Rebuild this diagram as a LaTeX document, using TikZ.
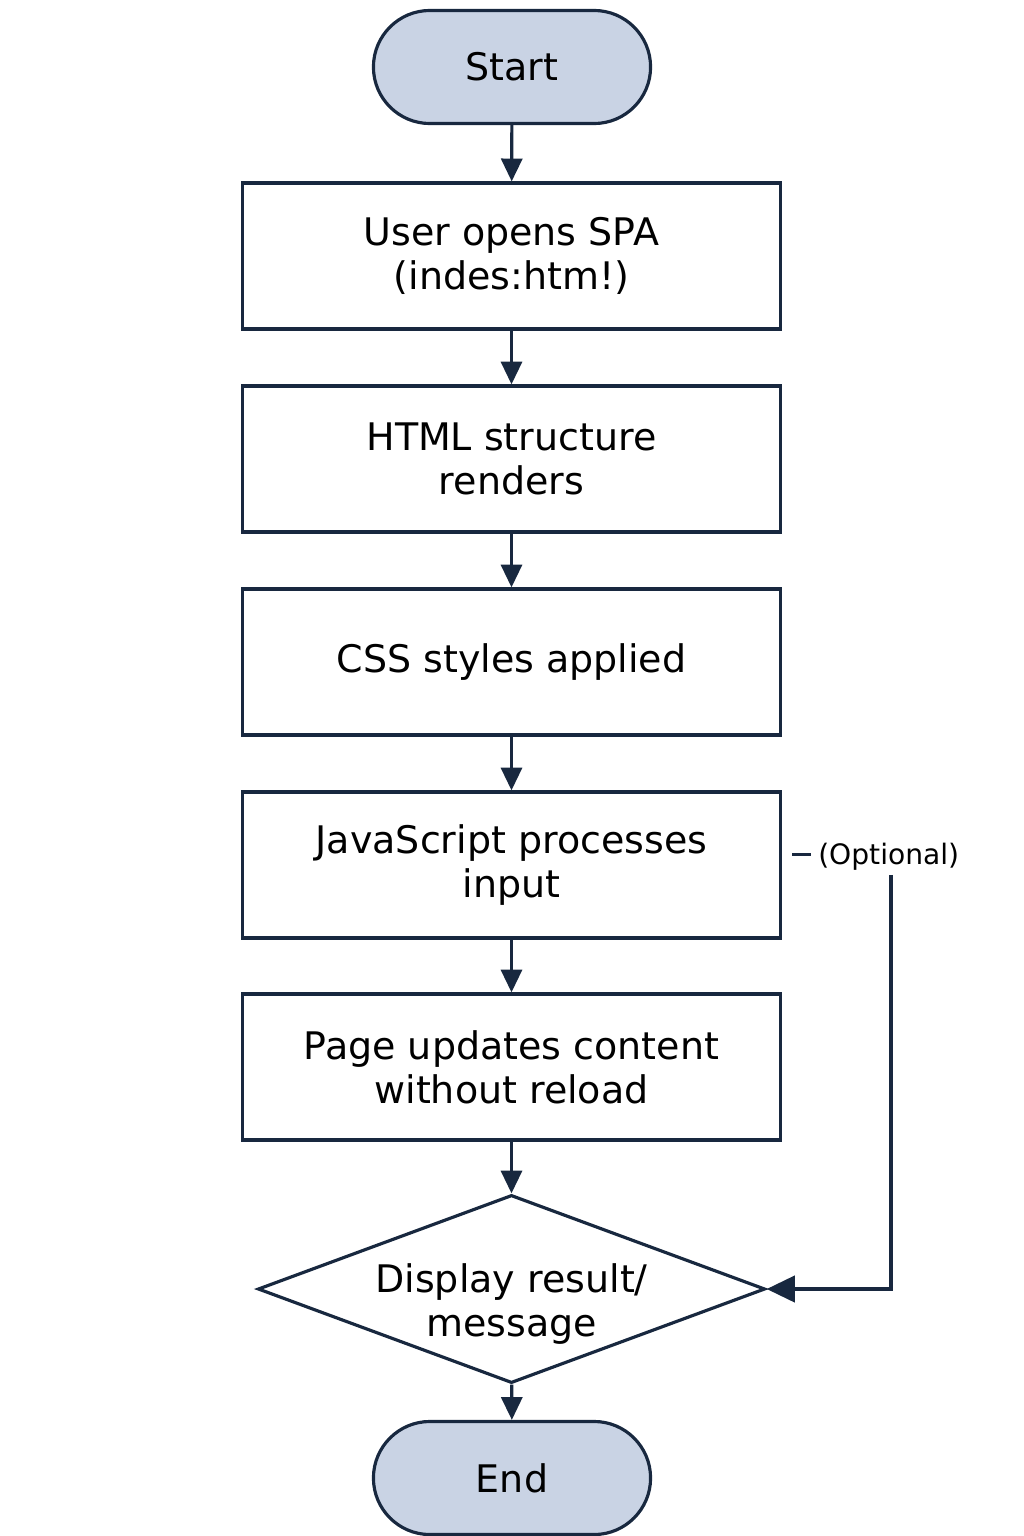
\documentclass[tikz,border=0pt]{standalone}
\usepackage{fontspec}
\setmainfont{DejaVu Sans}
\usetikzlibrary{arrows.meta,shapes.geometric}

\definecolor{ink}{HTML}{18283F}
\definecolor{termfill}{HTML}{C9D3E4}

\tikzset{
  base/.style={draw=ink, line width=0.9pt, align=center, text=black,
    font=\fontsize{10.8}{12.5}\selectfont},
  term/.style={base, fill=termfill, rounded corners=0.565cm,
    minimum width=2.77cm, minimum height=1.13cm},
  stepbox/.style={base, fill=white, minimum width=5.37cm, minimum height=1.46cm},
  decide/.style={base, diamond, aspect=2.7, fill=white, inner sep=0pt,
    minimum width=5.07cm, minimum height=1.88cm},
  note/.style={font=\fontsize{8}{10}\selectfont, text=black, inner sep=1pt},
  arr/.style={draw=ink, line width=0.9pt, -{Triangle[length=6.5pt,width=6pt]}}
}

\begin{document}
\begin{tikzpicture}[x=0.01cm, y=-0.01cm]
  \useasboundingbox (0,0) rectangle (1024,1536);

  \node[term] (start) at (512,67) {Start};
  \node[stepbox] (open) at (511.5,256) {User opens SPA\\(indes:htm!)};
  \node[stepbox] (html) at (511.5,459) {HTML structure\\renders};
  \node[stepbox] (css) at (511.5,662) {CSS styles applied};
  \node[stepbox] (js) at (511.5,865) {JavaScript processes\\input};
  \node[stepbox] (update) at (511.5,1067) {Page updates content\\without reload};
  \node[decide] (disp) at (511.5,1289)
    {\raisebox{-7.5pt}[0pt][0pt]{\begin{tabular}{@{}c@{}}Display result/\\message\end{tabular}}};
  \node[term] (end) at (512,1478) {End};

  % main flow
  \foreach \a/\b in {start/open, open/html, html/css, css/js, js/update, update/disp, disp/end}
    \draw[arr] (\a) -- (\b);

  % optional branch
  \node[note, anchor=west] (opt) at (788,857) {\textcolor{ink}{\rule[2.4pt]{5.2pt}{0.9pt}}\hspace{2.2pt}(Optional)};
  \coordinate (bend) at (891,1289);
  \draw[arr, -{Triangle[length=8pt,width=7.5pt]}] (opt.south -| bend) -- (bend) -- (disp.east);

\end{tikzpicture}
\end{document}
